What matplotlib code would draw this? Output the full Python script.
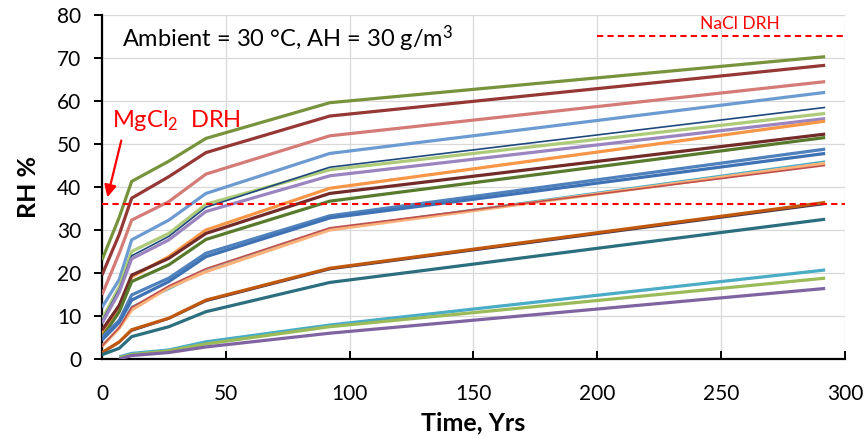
import matplotlib
matplotlib.use("Agg")
import matplotlib.pyplot as plt

plt.rcParams['font.family'] = ['Lato', 'DejaVu Sans']
plt.rcParams['mathtext.fontset'] = 'custom'
plt.rcParams['mathtext.rm'] = 'Lato'
plt.rcParams['mathtext.default'] = 'regular'

# ---- data ----
times = [0, 7, 12, 27, 42, 92, 292]
times_late = [7, 12, 27, 42, 92, 292]

olive       = [23.0, 33.0, 41.3, 46.0, 51.3, 59.6, 70.3]
dark_red    = [19.5, 29.0, 37.4, 42.4, 48.0, 56.5, 68.3]
rose        = [14.9, 24.6, 32.3, 36.6, 43.0, 51.9, 64.5]
light_blue  = [12.0, 18.5, 27.7, 32.3, 38.5, 47.8, 62.0]
light_green = [9.2, 16.8, 25.0, 29.2, 36.0, 44.0, 57.1]
navy        = [8.8, 16.2, 24.0, 28.5, 35.3, 44.6, 58.5]
lavender    = [8.3, 15.6, 23.3, 27.7, 34.3, 42.6, 55.9]
orange      = [5.8, 12.2, 19.1, 23.8, 30.0, 39.7, 55.3]
maroon      = [6.7, 12.5, 19.5, 23.4, 29.2, 38.5, 52.3]
dark_green  = [5.0, 11.0, 18.0, 21.9, 27.8, 36.7, 51.5]
blue1       = [5.0, 9.0, 14.9, 18.8, 24.6, 33.3, 48.8]
blue2       = [4.4, 8.5, 13.7, 18.0, 23.8, 32.8, 47.8]
cyan_thin   = [3.2, 7.4, 12.2, 16.2, 20.6, 30.2, 46.0]
red_thin    = [3.0, 7.3, 12.0, 17.0, 21.0, 30.5, 45.0]
light_orange= [2.9, 7.2, 11.4, 16.6, 20.3, 30.0, 45.5]
dark_purple = [1.3, 3.8, 6.5, 9.3, 13.4, 20.8, 36.0]
brown       = [1.5, 4.0, 6.8, 9.5, 13.7, 21.1, 36.4]
teal        = [1.0, 2.5, 5.2, 7.5, 11.0, 17.8, 32.5]
cyan        = [0.5, 1.3, 2.1, 4.0, 7.9, 20.7]
yellow_green= [0.3, 1.0, 1.9, 3.5, 7.5, 18.8]
purple      = [0.0, 0.8, 1.5, 2.8, 6.0, 16.4]

mgcl2_drh = 36
nacl_drh = 75
nacl_x = [200, 300]

x_ticks = [0, 50, 100, 150, 200, 250, 300]
y_ticks = [0, 10, 20, 30, 40, 50, 60, 70, 80]

# ---- plot ----
fig = plt.figure(figsize=(8.67, 4.38), dpi=100)
ax = fig.add_axes([0.1176, 0.1804, 0.857, 0.7854])

thick = 2.3
thin = 1.2
series = [
    (times, olive, '#77933C', thick),
    (times, dark_red, '#953735', thick),
    (times, rose, '#D47B78', thick),
    (times, light_blue, '#6C9BD2', thick),
    (times, light_green, '#AECB7A', thick),
    (times, navy, '#1F497D', thin),
    (times, lavender, '#9B85C0', thick),
    (times, orange, '#F79646', thick),
    (times, maroon, '#722B29', thick),
    (times, dark_green, '#587A2C', thick),
    (times, blue1, '#4F81BD', thick),
    (times, blue2, '#3F72B5', thick),
    (times, cyan_thin, '#4BACC6', thin),
    (times, light_orange, '#FAB27A', thick),
    (times, red_thin, '#C0504D', thin),
    (times, dark_purple, '#403152', thin),
    (times, brown, '#C0590E', thick),
    (times, teal, '#2B6F7E', thick),
    (times_late, cyan, '#4BACC6', thick),
    (times_late, yellow_green, '#9BBB59', thick),
    (times_late, purple, '#8064A2', thick),
]
for xs, ys, c, lw in series:
    ax.plot(xs, ys, color=c, lw=lw, solid_capstyle='butt', zorder=3)

ax.axhline(mgcl2_drh, color='#FF0000', lw=1.5, ls=(0, (3, 2)), zorder=4)
ax.plot(nacl_x, [nacl_drh, nacl_drh], color='#FF0000', lw=1.5, ls=(0, (3, 2)), zorder=4)

ax.text(257.5, 77.8, 'NaCl DRH', color='#FF0000', fontsize=12.5, ha='center', va='center')
ax.text(4, 55.5, 'MgCl$_2$  DRH', color='#FF0000', fontsize=17, ha='left', va='center')
ax.annotate('', xy=(2.2, 37.6), xytext=(7.8, 50.8),
            arrowprops=dict(arrowstyle='-|>', color='#FF0000', lw=1.6,
                            mutation_scale=18, shrinkA=0, shrinkB=0))
ax.text(8, 74.4, 'Ambient = 30 °C, AH = 30 g/m$^3$', color='black', fontsize=17,
        ha='left', va='center')

ax.set_xlim(0, 300)
ax.set_ylim(0, 80)
ax.set_xticks(x_ticks)
ax.set_yticks(y_ticks)
ax.grid(True, color='#D9D9D9', lw=0.9, zorder=0)
ax.set_axisbelow(True)
for s in ['top', 'right']:
    ax.spines[s].set_visible(False)
for s in ['left', 'bottom']:
    ax.spines[s].set_linewidth(1.6)
    ax.spines[s].set_color('black')
ax.tick_params(axis='x', direction='in', length=6, width=1.4, labelsize=15, pad=18)
ax.tick_params(axis='y', direction='out', length=6, width=1.4, labelsize=15, pad=9)

ax.set_xlabel('Time, Yrs', fontsize=18, fontweight='bold', labelpad=5)
ax.set_ylabel('RH %', fontsize=18, fontweight='bold', labelpad=12)

fig.savefig('out.png', dpi=100)
